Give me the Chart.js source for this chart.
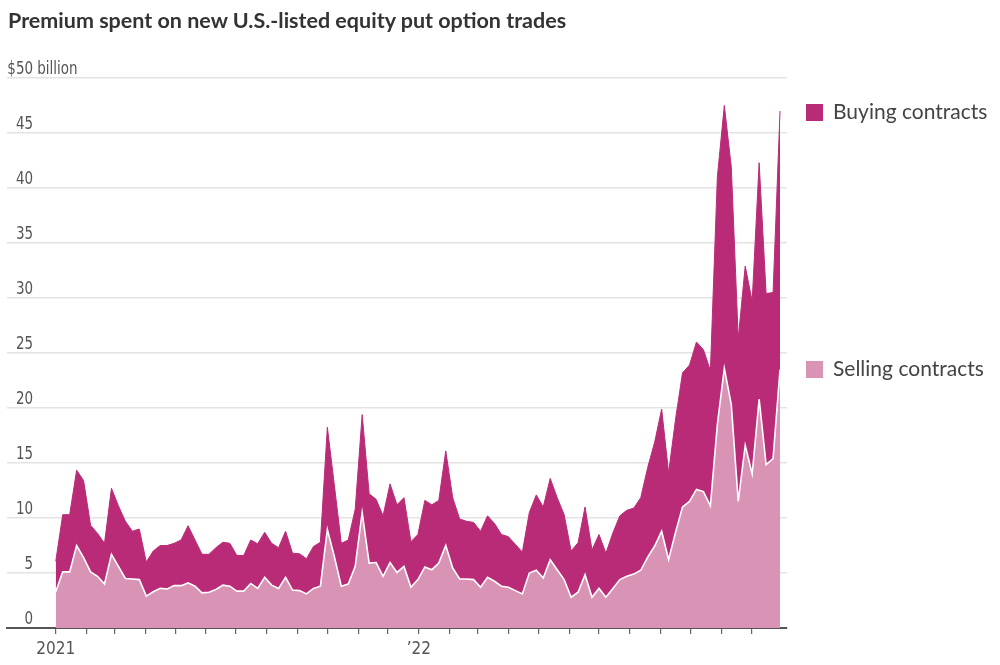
<!DOCTYPE html>
<html>
<head>
<meta charset="utf-8">
<title>Premium spent on put option trades</title>
<script src="https://cdn.jsdelivr.net/npm/chart.js@4.4.1/dist/chart.umd.min.js"></script>
<style>
  html, body { margin: 0; padding: 0; background: #fff; }
  #contenedor { position: relative; width: 1000px; height: 665px; overflow: hidden; }
  #grafica { position: absolute; left: 0; top: 0; }
  .titulo {
    position: absolute; left: 8px; top: 7px;
    font: bold 21.5px Lato, "Open Sans", sans-serif; color: #333; white-space: nowrap;
  }
  .leyenda {
    position: absolute; left: 806px; height: 24px; line-height: 24px;
    font: 21px Lato, "Open Sans", sans-serif; color: #444; white-space: nowrap;
  }
  .leyenda .caja { display: inline-block; width: 17px; height: 17px; margin-right: 10px; vertical-align: -2px; }
</style>
</head>
<body>
<div id="contenedor">
  <canvas id="grafica" width="1000" height="665"></canvas>
  <div class="titulo">Premium spent on new U.S.-listed equity put option trades</div>
  <div class="leyenda" style="top:98px"><span class="caja" style="background:#b92b77"></span>Buying contracts</div>
  <div class="leyenda" style="top:355px"><span class="caja" style="background:#d993b4"></span>Selling contracts</div>
</div>
<script>
// semanas desde el 1 de enero de 2021 (valores en miles de millones de dolares)
var inicio = "2021-01-01";

var vendiendo = [
  3.3, 5.1, 5.1, 7.5, 6.4, 5.1, 4.7, 4.0, 6.7, 5.6,
  4.5, 4.45, 4.4, 2.9, 3.3, 3.6, 3.55, 3.85, 3.85, 4.1,
  3.8, 3.2, 3.25, 3.5, 3.9, 3.8, 3.35, 3.35, 4.05, 3.6,
  4.6, 3.9, 3.6, 4.6, 3.45, 3.4, 3.1, 3.6, 3.8, 8.95,
  6.5, 3.8, 4.0, 5.6, 10.5, 5.9, 5.95, 4.7, 5.95, 5.05,
  5.6, 3.7, 4.4, 5.55, 5.3, 5.9, 7.5, 5.45, 4.45, 4.45,
  4.4, 3.7, 4.6, 4.25, 3.8, 3.7, 3.4, 3.1, 5.0, 5.25,
  4.55, 6.2, 5.3, 4.4, 2.8, 3.25, 4.85, 2.8, 3.6, 2.8,
  3.6, 4.4, 4.7, 4.9, 5.25, 6.45, 7.45, 8.8, 6.2, 8.7,
  11.0, 11.5, 12.6, 12.4, 11.1, 18.5, 23.6, 20.3, 11.5, 16.6,
  14.0, 20.8, 14.85, 15.4, 23.5
];

var comprando = [
  2.76, 5.2, 5.2, 6.85, 7.0, 4.25, 3.9, 3.7, 6.0, 5.5,
  5.2, 4.35, 4.6, 3.1, 3.7, 3.9, 3.95, 3.85, 4.15, 5.2,
  4.2, 3.5, 3.45, 3.8, 3.9, 3.9, 3.25, 3.25, 3.95, 4.05,
  4.1, 3.8, 3.7, 4.2, 3.35, 3.35, 3.2, 3.8, 4.0, 9.3,
  6.5, 3.9, 4.0, 5.2, 8.9, 6.3, 5.75, 5.5, 7.15, 6.15,
  6.25, 4.15, 4.1, 6.05, 5.9, 5.7, 8.6, 6.4, 5.45, 5.25,
  5.2, 5.1, 5.6, 5.25, 4.7, 4.6, 4.2, 3.8, 5.5, 6.85,
  6.45, 7.4, 6.55, 5.9, 4.2, 4.5, 6.15, 4.3, 4.9, 4.0,
  5.05, 5.8, 6.0, 6.0, 6.6, 8.15, 9.45, 11.1, 7.9, 10.3,
  12.2, 12.4, 13.4, 12.9, 12.3, 22.5, 23.9, 21.6, 14.8, 16.3,
  15.7, 21.5, 15.55, 15.1, 23.5
];

var meses = [
  "2021-01-01", "2021-02-01", "2021-03-01", "2021-04-01", "2021-05-01", "2021-06-01",
  "2021-07-01", "2021-08-01", "2021-09-01", "2021-10-01", "2021-11-01", "2021-12-01",
  "2022-01-01", "2022-02-01", "2022-03-01", "2022-04-01", "2022-05-01", "2022-06-01",
  "2022-07-01", "2022-08-01", "2022-09-01", "2022-10-01", "2022-11-01", "2022-12-01"
];
var etiquetasMes = { "2021-01-01": "2021", "2022-01-01": "\u201922" };
var marcasY = [0, 5, 10, 15, 20, 25, 30, 35, 40, 45, 50];

var colorCompra = "#b92b77";
var colorVenta = "#d993b4";
var fuenteEje = '"Liberation Sans Narrow", "DejaVu Sans Condensed", "Roboto", sans-serif';

function diasDesde(fecha) {
  return Math.round((Date.parse(fecha) - Date.parse(inicio)) / 86400000);
}

var diasMes = meses.map(diasDesde);
var textoMes = {};
for (var m = 0; m < meses.length; m++) {
  textoMes[diasMes[m]] = etiquetasMes[meses[m]] || "";
}

var puntosVenta = [];
var puntosCompra = [];
for (var i = 0; i < vendiendo.length; i++) {
  puntosVenta.push({ x: i * 7, y: vendiendo[i] });
  puntosCompra.push({ x: i * 7, y: comprando[i] });
}

// etiquetas del eje y encima de cada linea de la reticula (algo estrechas, como el original)
var etiquetasY = {
  id: "etiquetasY",
  afterDraw: function (chart) {
    var ctx = chart.ctx;
    var y = chart.scales.y;
    ctx.save();
    ctx.font = "17px " + fuenteEje;
    ctx.fillStyle = "#555";
    ctx.textBaseline = "alphabetic";
    marcasY.forEach(function (v) {
      var py = y.getPixelForValue(v) - 4;
      ctx.save();
      ctx.translate(33, py);
      ctx.scale(0.88, 1);
      ctx.textAlign = "right";
      ctx.fillText(v === 50 ? "$50" : String(v), 0, 0);
      if (v === 50) {
        ctx.textAlign = "left";
        ctx.fillText(" billion", 0, 0);
      }
      ctx.restore();
    });
    ctx.restore();
  }
};

var ctx = document.getElementById("grafica").getContext("2d");
var grafica = new Chart(ctx, {
  type: "line",
  data: {
    datasets: [
      {
        label: "Selling contracts",
        data: puntosVenta,
        fill: "origin",
        backgroundColor: colorVenta,
        borderColor: "#ffffff",
        borderWidth: 1.6,
        pointRadius: 0,
        tension: 0,
      },
      {
        label: "Buying contracts",
        data: puntosCompra,
        fill: "-1",
        backgroundColor: colorCompra,
        borderColor: colorCompra,
        borderWidth: 1,
        pointRadius: 0,
        tension: 0,
      },
    ],
  },
  options: {
    responsive: false,
    animation: false,
    layout: { padding: { left: 7, right: 213, top: 78, bottom: 0 } },
    plugins: { legend: { display: false }, tooltip: { enabled: false } },
    scales: {
      x: {
        type: "linear",
        min: -49,
        max: 735,
        afterBuildTicks: function (s) {
          s.ticks = diasMes.map(function (d) { return { value: d }; });
        },
        afterFit: function (s) { s.height = 37; },
        ticks: {
          autoSkip: false,
          maxRotation: 0,
          padding: 5,
          color: "#555",
          font: { family: fuenteEje, size: 17 },
          callback: function (v) { return textoMes[v] || ""; },
        },
        grid: { drawOnChartArea: false, drawTicks: true, tickLength: 6, color: "#666", lineWidth: 1.2 },
        border: { display: true, color: "#555", width: 2 },
      },
      y: {
        stacked: true,
        min: 0,
        max: 50,
        z: 1,
        afterFit: function (s) { s.width = 0; },
        ticks: { stepSize: 5, display: false },
        grid: {
          drawTicks: false,
          lineWidth: 1.5,
          color: function (c) {
            return c.tick && c.tick.value === 0 ? "rgba(0,0,0,0)" : "rgba(222,222,222,0.85)";
          },
        },
        border: { display: false },
      },
    },
  },
  plugins: [etiquetasY],
});
</script>
</body>
</html>
